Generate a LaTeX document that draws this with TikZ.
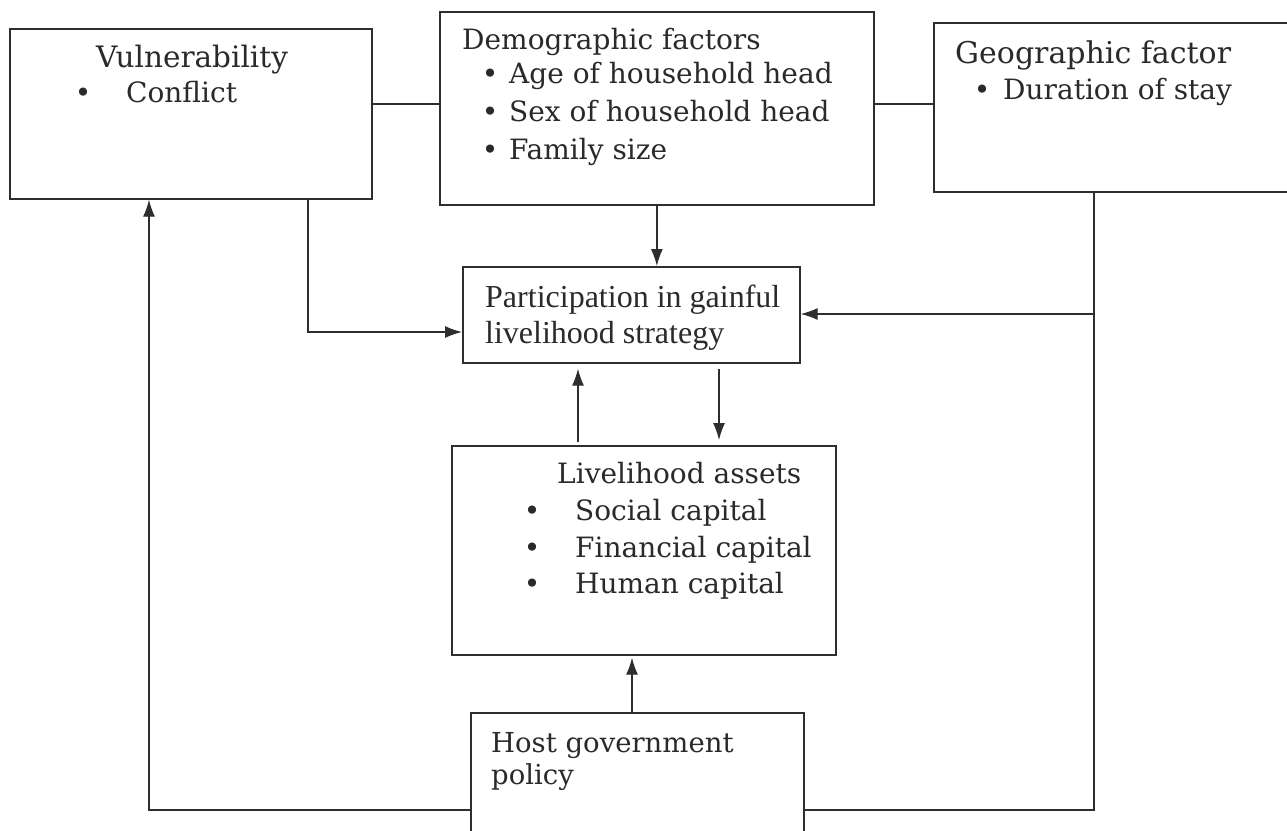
\documentclass[tikz,border=0pt]{standalone}
\usepackage{fontspec}
\newfontfamily\bookfont{DejaVu Serif}
\newfontfamily\timesfont{Liberation Serif}
\usetikzlibrary{arrows.meta}
\definecolor{ink}{HTML}{2E2E2E}
\definecolor{txt}{HTML}{2A2A2A}
\newcommand{\mybul}[1]{\makebox[#1][c]{\textbullet}}
\begin{document}
\begin{tikzpicture}[x=1pt,y=-1pt,
  box/.style={draw=ink, line width=1.7pt, anchor=north west, inner sep=0pt},
  lbl/.style={anchor=base west, inner sep=0pt, text=txt, font=\bookfont\fontsize{28}{32}\selectfont},
  tlbl/.style={anchor=base west, inner sep=0pt, text=txt, font=\timesfont\fontsize{32}{36}\selectfont},
  conn/.style={draw=ink, line width=1.3pt},
  arr/.style={conn, -{Latex[length=17pt,width=12pt]}}]
\useasboundingbox (0,0) rectangle (1287,830);
\clip (0,0) rectangle (1287,830);
\fill[white] (0,0) rectangle (1287,830);
% boxes
\node[box, minimum width=362pt, minimum height=170pt] (vul) at (9,28) {};
\node[box, minimum width=434pt, minimum height=193pt] (dem) at (439,11) {};
\node[box, minimum width=362pt, minimum height=169pt] (geo) at (933,22) {};
\node[box, minimum width=337pt, minimum height=96pt] (par) at (462,266) {};
\node[box, minimum width=384pt, minimum height=209pt] (liv) at (451,445) {};
\node[box, minimum width=333pt, minimum height=140pt] (host) at (470,712) {};
% texts
\node[lbl, font=\bookfont\fontsize{29.5}{32}\selectfont] (vult) at (96,67) {Vulnerability};
\node[lbl] (vul1) at (40,102) {\mybul{86pt}Conflict};
\node[lbl] (demt) at (462,49) {Demographic factors};
\node[lbl] (dem1) at (471,83) {\mybul{38pt}Age of household head};
\node[lbl] (dem2) at (471,121) {\mybul{38pt}Sex of household head};
\node[lbl] (dem3) at (471,159) {\mybul{38pt}Family size};
\node[lbl, font=\bookfont\fontsize{30}{32}\selectfont] (geot) at (955,63) {Geographic factor};
\node[lbl] (geo1) at (961,99) {\mybul{42pt}Duration of stay};
\node[tlbl] (par1) at (485,307) {Participation in gainful};
\node[tlbl] (par2) at (485,343) {livelihood strategy};
\node[lbl] (livt) at (557,483) {Livelihood assets};
\node[lbl] (liv1) at (489,520) {\mybul{86pt}Social capital};
\node[lbl] (liv2) at (489,557) {\mybul{86pt}Financial capital};
\node[lbl] (liv3) at (489,593) {\mybul{86pt}Human capital};
\node[lbl, font=\bookfont\fontsize{27.5}{32}\selectfont] (host1) at (491,752) {Host government};
\node[lbl, font=\bookfont\fontsize{27.5}{32}\selectfont] (host2) at (491,784) {policy};
% helper coordinates
\coordinate (h1) at (0,104);
\coordinate (vx) at (308,0);
\coordinate (py) at (0,332);
\coordinate (gx) at (1094,0);
\coordinate (gy) at (0,314);
\coordinate (by) at (0,810);
\coordinate (lx) at (149,0);
\coordinate (ux) at (578,0);
\coordinate (dx) at (719,0);
\coordinate (hx) at (632,0);
\coordinate (gj) at (gx |- gy);
% connectors
\draw[conn] (vul.east |- h1) -- (dem.west |- h1);
\draw[conn] (dem.east |- h1) -- (geo.west |- h1);
\draw[arr] (dem.south) -- (dem.south |- par.north);
\draw[arr] (vul.south -| vx) |- (par.west |- py);
\draw[conn] (geo.south -| gx) |- (host.east |- by);
\draw[arr] (gj) -- (par.east |- gy);
\draw[arr] (host.west |- by) -| (vul.south -| lx);
\draw[arr, shorten >=5pt, shorten <=3pt] (liv.north -| ux) -- (par.south -| ux);
\draw[arr, shorten >=5pt, shorten <=5pt] (par.south -| dx) -- (liv.north -| dx);
\draw[arr, shorten >=2pt] (host.north -| hx) -- (liv.south -| hx);
\end{tikzpicture}
\end{document}
